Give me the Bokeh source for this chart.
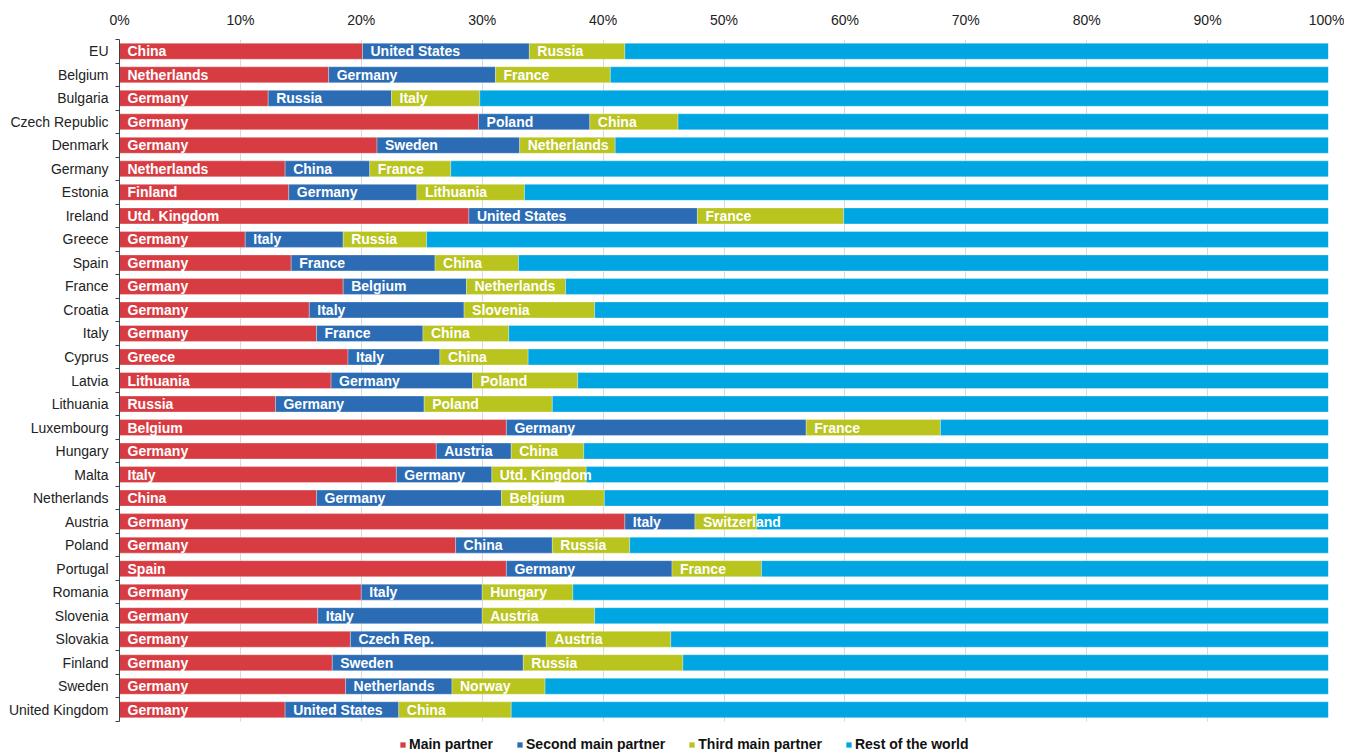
from bokeh.plotting import figure
from bokeh.models import ColumnDataSource, Range1d, FixedTicker, BoxAnnotation
from bokeh.core.properties import value
from bokeh.embed import file_html
from bokeh.resources import INLINE

countries = ["EU", "Belgium", "Bulgaria", "Czech Republic", "Denmark", "Germany", "Estonia",
             "Ireland", "Greece", "Spain", "France", "Croatia", "Italy", "Cyprus", "Latvia",
             "Lithuania", "Luxembourg", "Hungary", "Malta", "Netherlands", "Austria", "Poland",
             "Portugal", "Romania", "Slovenia", "Slovakia", "Finland", "Sweden", "United Kingdom"]

partner1 = ["China", "Netherlands", "Germany", "Germany", "Germany", "Netherlands", "Finland",
            "Utd. Kingdom", "Germany", "Germany", "Germany", "Germany", "Germany", "Greece", "Lithuania",
            "Russia", "Belgium", "Germany", "Italy", "China", "Germany", "Germany",
            "Spain", "Germany", "Germany", "Germany", "Germany", "Germany", "Germany"]
partner2 = ["United States", "Germany", "Russia", "Poland", "Sweden", "China", "Germany",
            "United States", "Italy", "France", "Belgium", "Italy", "France", "Italy", "Germany",
            "Germany", "Germany", "Austria", "Germany", "Germany", "Italy", "China",
            "Germany", "Italy", "Italy", "Czech Rep.", "Sweden", "Netherlands", "United States"]
partner3 = ["Russia", "France", "Italy", "China", "Netherlands", "France", "Lithuania",
            "France", "Russia", "China", "Netherlands", "Slovenia", "China", "China", "Poland",
            "Poland", "France", "China", "Utd. Kingdom", "Belgium", "Switzerland", "Russia",
            "France", "Hungary", "Austria", "Austria", "Russia", "Norway", "China"]

share1 = [20.1, 17.3, 12.3, 29.7, 21.3, 13.7, 14.0, 28.9, 10.4, 14.2, 18.5, 15.7, 16.3, 18.9, 17.5,
          12.9, 32.0, 26.2, 22.9, 16.3, 41.8, 27.8, 32.0, 20.0, 16.4, 19.1, 17.6, 18.7, 13.7]
share2 = [13.8, 13.8, 10.2, 9.2, 11.8, 7.0, 10.6, 18.9, 8.1, 11.9, 10.2, 12.8, 8.8, 7.6, 11.7,
          12.3, 24.8, 6.2, 7.9, 15.3, 5.8, 8.0, 13.7, 10.0, 13.6, 16.2, 15.8, 8.8, 9.4]
share3 = [7.9, 9.5, 7.3, 7.3, 7.9, 6.7, 8.9, 12.1, 6.9, 6.9, 8.2, 10.8, 7.1, 7.3, 8.7,
          10.6, 11.1, 6.0, 7.8, 8.5, 5.1, 6.4, 7.4, 7.5, 9.3, 10.3, 13.2, 7.7, 9.3]

series_names = ["Main partner", "Second main partner", "Third main partner", "Rest of the world"]
colors = ["#D83C43", "#2B6CB4", "#B9C41F", "#00A6E2"]
x_ticks = [0, 10, 20, 30, 40, 50, 60, 70, 80, 90, 100]
x_tick_labels = ["0%", "10%", "20%", "30%", "40%", "50%", "60%", "70%", "80%", "90%", "100%"]

n = len(countries)
ys = [n - 1 - i for i in range(n)]
rest = [100 - a - b - c for a, b, c in zip(share1, share2, share3)]

src = ColumnDataSource(dict(y=ys, s1=share1, s2=share2, s3=share3, s4=rest))

FONT = "Liberation Sans"

# frame extends below the bars to hold the legend
p = figure(width=1344, height=753, output_backend="svg", toolbar_location=None,
           x_range=Range1d(0, 100), y_range=Range1d(-1.86, n - 0.5),
           x_axis_location="above",
           min_border_left=119, min_border_right=16, min_border_top=39, min_border_bottom=0)
p.outline_line_color = None
p.background_fill_color = "white"

p.xgrid.ticker = FixedTicker(ticks=x_ticks)
p.xgrid.grid_line_color = "#D9D9D9"
p.ygrid.grid_line_color = None

# white cover so grid lines stop at the bottom of the bars
p.add_layout(BoxAnnotation(top=-0.5, fill_color="white", fill_alpha=1.0,
                           line_color=None, level="underlay"))

rs = p.hbar_stack(["s1", "s2", "s3", "s4"], y="y", height=0.68, color=colors, source=src,
                  line_color="white", line_width=0.6, line_alpha=0.5,
                  legend_label=series_names)

# segment labels
lx, ly, lt = [], [], []
for i in range(n):
    lx += [0, share1[i], share1[i] + share2[i]]
    ly += [ys[i]] * 3
    lt += [partner1[i], partner2[i], partner3[i]]
lsrc = ColumnDataSource(dict(x=lx, y=ly, t=lt))
p.text(x="x", y="y", text="t", source=lsrc, x_offset=8, text_color="white",
       text_font=value(FONT), text_font_style="bold", text_font_size="14px",
       text_baseline="middle", text_align="left")

# x axis (top)
xa = p.xaxis[0]
xa.ticker = FixedTicker(ticks=x_ticks)
xa.major_label_overrides = {t: l for t, l in zip(x_ticks, x_tick_labels)}
xa.axis_line_color = None
xa.major_tick_line_color = None
xa.minor_tick_line_color = None
xa.major_tick_out = 0
xa.major_label_standoff = 12
xa.major_label_text_font = FONT
xa.major_label_text_font_size = "14px"
xa.major_label_text_color = "#222222"

# y axis (left)
ya = p.yaxis[0]
ya.bounds = (-0.5, n - 0.5)
ya.ticker = FixedTicker(ticks=ys, minor_ticks=[k + 0.5 for k in range(-1, n)])
ya.major_label_overrides = {y: c for y, c in zip(ys, countries)}
ya.major_tick_line_color = None
ya.major_tick_out = 0
ya.major_tick_in = 0
ya.minor_tick_line_color = "#404040"
ya.minor_tick_out = 4
ya.minor_tick_in = 0
ya.axis_line_color = "#404040"
ya.major_label_standoff = 7
ya.major_label_text_font = FONT
ya.major_label_text_font_size = "14px"
ya.major_label_text_color = "#222222"

lg = p.legend[0]
lg.orientation = "horizontal"
lg.location = (280, 1)
lg.label_text_font = FONT
lg.label_text_font_style = "bold"
lg.label_text_font_size = "14px"
lg.label_text_color = "#111111"
lg.glyph_width = 7
lg.glyph_height = 7
lg.label_height = 12
lg.label_standoff = 3
lg.spacing = 23
lg.padding = 0
lg.margin = 0
lg.border_line_color = None
lg.background_fill_alpha = 0

open("out.html", "w").write(file_html(p, INLINE))
